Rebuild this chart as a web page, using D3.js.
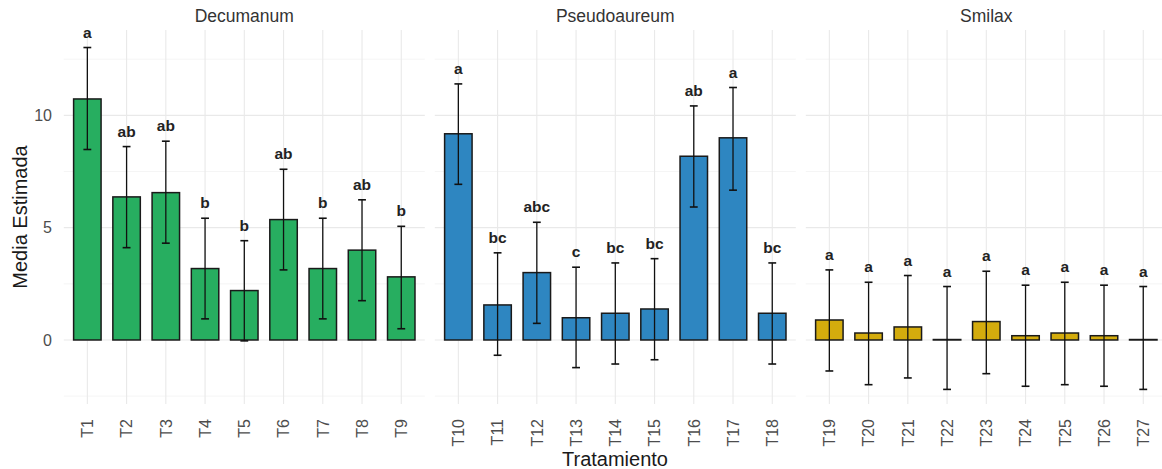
<!DOCTYPE html>
<html><head><meta charset="utf-8">
<script src="https://cdn.jsdelivr.net/npm/d3@7"></script>
<style>body{margin:0;background:#fff}svg{display:block;font-family:"Liberation Sans",Arial,sans-serif}</style>
</head><body><svg id="c" width="1162" height="469"></svg>
<script>
const panels = ["Decumanum","Pseudoaureum","Smilax"];
const panelColors = ["#27AE60","#2E86C1","#D4AC0D"];
const treatments = ["T1","T2","T3","T4","T5","T6","T7","T8","T9",
  "T10","T11","T12","T13","T14","T15","T16","T17","T18",
  "T19","T20","T21","T22","T23","T24","T25","T26","T27"];
const groups = ["Decumanum","Decumanum","Decumanum","Decumanum","Decumanum","Decumanum","Decumanum","Decumanum","Decumanum",
  "Pseudoaureum","Pseudoaureum","Pseudoaureum","Pseudoaureum","Pseudoaureum","Pseudoaureum","Pseudoaureum","Pseudoaureum","Pseudoaureum",
  "Smilax","Smilax","Smilax","Smilax","Smilax","Smilax","Smilax","Smilax","Smilax"];
const means = [10.73,6.37,6.56,3.18,2.20,5.36,3.18,4.00,2.81,
  9.18,1.56,3.00,0.99,1.19,1.38,8.18,9.00,1.19,
  0.89,0.31,0.58,0.02,0.82,0.19,0.31,0.19,0.02];
const lower = [8.48,4.11,4.31,0.94,-0.04,3.12,0.94,1.75,0.50,
  6.93,-0.68,0.74,-1.23,-1.07,-0.88,5.92,6.67,-1.07,
  -1.38,-1.99,-1.69,-2.20,-1.50,-2.06,-1.99,-2.06,-2.20];
const upper = [13.02,8.61,8.85,5.42,4.42,7.60,5.42,6.24,5.06,
  11.40,3.88,5.24,3.24,3.43,3.62,10.42,11.24,3.43,
  3.12,2.57,2.87,2.38,3.06,2.44,2.57,2.44,2.38];
const letters = ["a","ab","ab","b","b","ab","b","ab","b",
  "a","bc","abc","c","bc","bc","ab","a","bc",
  "a","a","a","a","a","a","a","a","a"];
const yTicks = [0,5,10];
const yMinor = [-2.5,2.5,7.5,12.5];

const svg = d3.select("#c");
const pTop = 30, pBottom = 404, pw = 361, x0s = [63.8, 434.8, 805.8];
const y = d3.scaleLinear().domain([-2.85,13.8]).range([pBottom, pTop]);
const data = treatments.map((t,i)=>({t, g:groups[i], m:means[i], lo:lower[i], hi:upper[i], l:letters[i]}));

panels.forEach((p,pi)=>{
  const rows = data.filter(d=>d.g===p);
  const x = d3.scalePoint().domain(rows.map(d=>d.t)).range([x0s[pi], x0s[pi]+pw]).padding(0.6);
  const g = svg.append("g");
  g.selectAll(".ymin").data(yMinor).join("line")
    .attr("x1",x0s[pi]).attr("x2",x0s[pi]+pw).attr("y1",d=>y(d)).attr("y2",d=>y(d))
    .attr("stroke","#eeeeee").attr("stroke-width",0.6);
  g.selectAll(".ymaj").data(yTicks).join("line")
    .attr("x1",x0s[pi]).attr("x2",x0s[pi]+pw).attr("y1",d=>y(d)).attr("y2",d=>y(d))
    .attr("stroke","#e9e9e9").attr("stroke-width",1.1);
  g.selectAll(".xmaj").data(rows).join("line")
    .attr("x1",d=>x(d.t)).attr("x2",d=>x(d.t)).attr("y1",pTop).attr("y2",pBottom)
    .attr("stroke","#e9e9e9").attr("stroke-width",1.1);
  g.append("text").attr("x",x0s[pi]+pw/2).attr("y",22).attr("text-anchor","middle")
    .attr("font-size",17.5).attr("fill","#333").text(p);
  const bw = x.step()*0.7;
  g.selectAll(".bar").data(rows).join("rect")
    .attr("x",d=>x(d.t)-bw/2).attr("width",bw)
    .attr("y",d=>Math.min(y(d.m),y(0))).attr("height",d=>Math.abs(y(0)-y(d.m)))
    .attr("fill",panelColors[pi]).attr("stroke","#1a1a1a").attr("stroke-width",1.5);
  const cw = x.step()*0.1;
  const eb = g.selectAll(".eb").data(rows).join("g");
  eb.append("line").attr("x1",d=>x(d.t)).attr("x2",d=>x(d.t)).attr("y1",d=>y(d.lo)).attr("y2",d=>y(d.hi))
    .attr("stroke","#111").attr("stroke-width",1.3);
  eb.append("line").attr("x1",d=>x(d.t)-cw).attr("x2",d=>x(d.t)+cw).attr("y1",d=>y(d.lo)).attr("y2",d=>y(d.lo))
    .attr("stroke","#111").attr("stroke-width",1.6);
  eb.append("line").attr("x1",d=>x(d.t)-cw).attr("x2",d=>x(d.t)+cw).attr("y1",d=>y(d.hi)).attr("y2",d=>y(d.hi))
    .attr("stroke","#111").attr("stroke-width",1.6);
  g.selectAll(".lab").data(rows).join("text")
    .attr("x",d=>x(d.t)).attr("y",d=>y(d.hi)-10).attr("text-anchor","middle")
    .attr("font-size",15.5).attr("font-weight","bold").attr("fill","#222").text(d=>d.l);
  g.selectAll(".xt").data(rows).join("text")
    .attr("transform",d=>`translate(${x(d.t)+5.8},419) rotate(-90)`)
    .attr("text-anchor","end").attr("font-size",16).attr("fill","#4d4d4d").text(d=>d.t);
});
svg.selectAll(".yt").data(yTicks).join("text")
  .attr("x",52).attr("y",d=>y(d)+5.8).attr("text-anchor","end")
  .attr("font-size",16).attr("fill","#4d4d4d").text(d=>d);
svg.append("text").attr("transform",`translate(27,${(pTop+pBottom)/2}) rotate(-90)`)
  .attr("text-anchor","middle").attr("font-size",20).attr("fill","#1a1a1a").text("Media Estimada");
svg.append("text").attr("x",615).attr("y",466).attr("text-anchor","middle")
  .attr("font-size",20).attr("fill","#1a1a1a").text("Tratamiento");
</script></body></html>
